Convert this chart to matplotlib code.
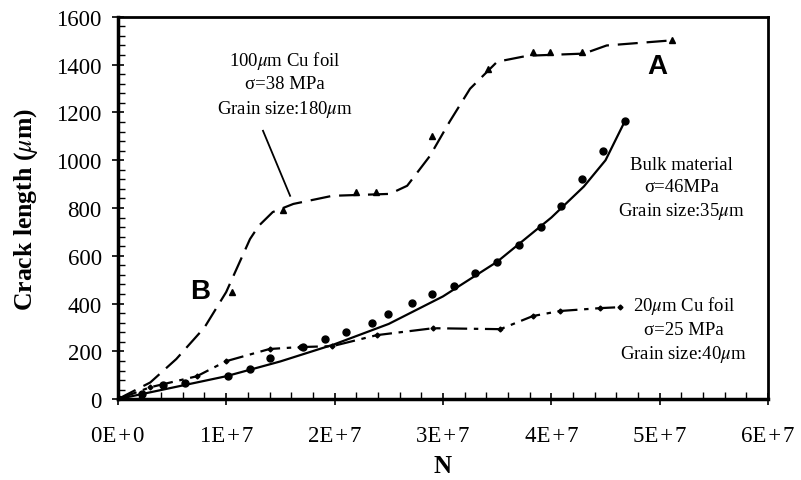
import matplotlib.pyplot as plt
from matplotlib.ticker import MultipleLocator, FixedFormatter, FixedLocator

plt.rcParams['font.family'] = ['Liberation Serif', 'DejaVu Serif']
plt.rcParams['mathtext.fontset'] = 'stix'

# --------------------------------------------------
# Data
# --------------------------------------------------
# 100um Cu foil: dashed curve and triangle markers
foil100_n = [0, 0.3e7, 0.54e7, 0.8e7, 1.0e7, 1.22e7, 1.3e7, 1.43e7, 1.62e7, 1.98e7,
             2.51e7, 2.67e7, 2.88e7, 3.06e7, 3.25e7, 3.5e7, 3.78e7, 4.3e7, 4.51e7, 5.07e7]
foil100_a = [0, 70, 168, 300, 448, 670, 725, 783, 817, 851,
             859, 893, 1018, 1160, 1299, 1412, 1437, 1446, 1480, 1500]
foil100_mark_n = [1.05e7, 1.52e7, 2.2e7, 2.38e7, 2.9e7, 3.42e7, 3.83e7, 3.99e7, 4.28e7, 5.11e7]
foil100_mark_a = [449, 792, 867, 867, 1100, 1383, 1454, 1454, 1454, 1504]

# Bulk material: solid fit and circle markers
bulk_fit_n = [0, 0.5e7, 1.0e7, 1.5e7, 2.0e7, 2.5e7, 3.0e7, 3.5e7, 4.0e7, 4.3e7, 4.5e7, 4.68e7]
bulk_fit_a = [0, 48, 96, 158, 230, 315, 430, 575, 760, 890, 1000, 1165]
bulk_n = [0, 0.22e7, 0.42e7, 0.62e7, 1.02e7, 1.22e7, 1.40e7, 1.71e7, 1.91e7, 2.11e7,
          2.35e7, 2.49e7, 2.71e7, 2.9e7, 3.1e7, 3.3e7, 3.5e7, 3.7e7, 3.9e7, 4.09e7,
          4.28e7, 4.48e7, 4.68e7]
bulk_a = [0, 21, 59, 67, 96, 126, 172, 218, 251, 281,
          318, 356, 402, 440, 474, 528, 574, 645, 720, 808,
          922, 1039, 1165]

# 20um Cu foil: dash-dot curve with small markers
foil20_n = [0, 0.3e7, 0.73e7, 1.0e7, 1.4e7, 1.68e7, 1.98e7, 2.39e7, 2.91e7, 3.53e7,
            3.83e7, 4.08e7, 4.45e7, 4.63e7]
foil20_a = [0, 50, 96, 159, 210, 218, 222, 268, 297, 293,
            348, 369, 381, 385]

x_labels = ['0E\u200a+\u200a0', '1E\u200a+\u200a7', '2E\u200a+\u200a7', '3E\u200a+\u200a7',
            '4E\u200a+\u200a7', '5E\u200a+\u200a7', '6E\u200a+\u200a7']

# --------------------------------------------------
# Plot
# --------------------------------------------------
fig = plt.figure(figsize=(8.01, 4.81), dpi=100)
ax = fig.add_axes([0.147, 0.168, 0.812, 0.795])

ax.plot(foil100_n, foil100_a, color='black', lw=1.6, dashes=(9, 4))
ax.plot(foil100_mark_n, foil100_mark_a, ls='none', marker='^', ms=4, color='black')

ax.plot(bulk_fit_n, bulk_fit_a, color='black', lw=1.6)
ax.plot(bulk_n, bulk_a, ls='none', marker='o', ms=5, color='black')

ax.plot(foil20_n, foil20_a, color='black', lw=1.6, dashes=(9, 3, 2, 3),
        marker='D', ms=2.5)

ax.set_xlim(0, 6e7)
ax.set_ylim(0, 1600)
ax.xaxis.set_major_locator(FixedLocator([i * 1e7 for i in range(7)]))
ax.xaxis.set_major_formatter(FixedFormatter(x_labels))
ax.xaxis.set_minor_locator(MultipleLocator(2e6))
ax.yaxis.set_major_locator(MultipleLocator(200))
ax.yaxis.set_minor_locator(MultipleLocator(40))
ax.tick_params(which='major', direction='inout', length=9, width=1.2, labelsize=16.5, pad=7)
ax.tick_params(which='minor', direction='in', length=5, width=1)
ax.tick_params(axis='x', pad=14)

for side in ['left', 'bottom']:
    ax.spines[side].set_linewidth(2.5)
for side in ['top', 'right']:
    ax.spines[side].set_linewidth(2)

ax.set_xlabel('N', fontsize=18, fontweight='bold', labelpad=6)
ax.set_ylabel(r'Crack length ($\mu$m)', fontsize=18.5, fontweight='bold', labelpad=12)

# annotations
ax.text(1.54e7, 1320, '100$\\mu$m Cu foil\nσ=38 MPa\nGrain size:180$\\mu$m',
        ha='center', va='center', fontsize=13.5, linespacing=1.35)
ax.plot([1.34e7, 1.59e7], [1123, 851], color='black', lw=1.3)
ax.text(5.2e7, 880, 'Bulk material\nσ=46MPa\nGrain size:35$\\mu$m',
        ha='center', va='center', fontsize=13.5, linespacing=1.35)
ax.text(5.22e7, 293, '20$\\mu$m Cu foil\nσ=25 MPa\nGrain size:40$\\mu$m',
        ha='center', va='center', fontsize=13.5, linespacing=1.35)
ax.text(4.98e7, 1395, 'A', family='Liberation Sans', fontsize=20, fontweight='bold',
        ha='center', va='center')
ax.text(0.76e7, 452, 'B', family='Liberation Sans', fontsize=20, fontweight='bold',
        ha='center', va='center')

fig.savefig('out.png', dpi=100)
